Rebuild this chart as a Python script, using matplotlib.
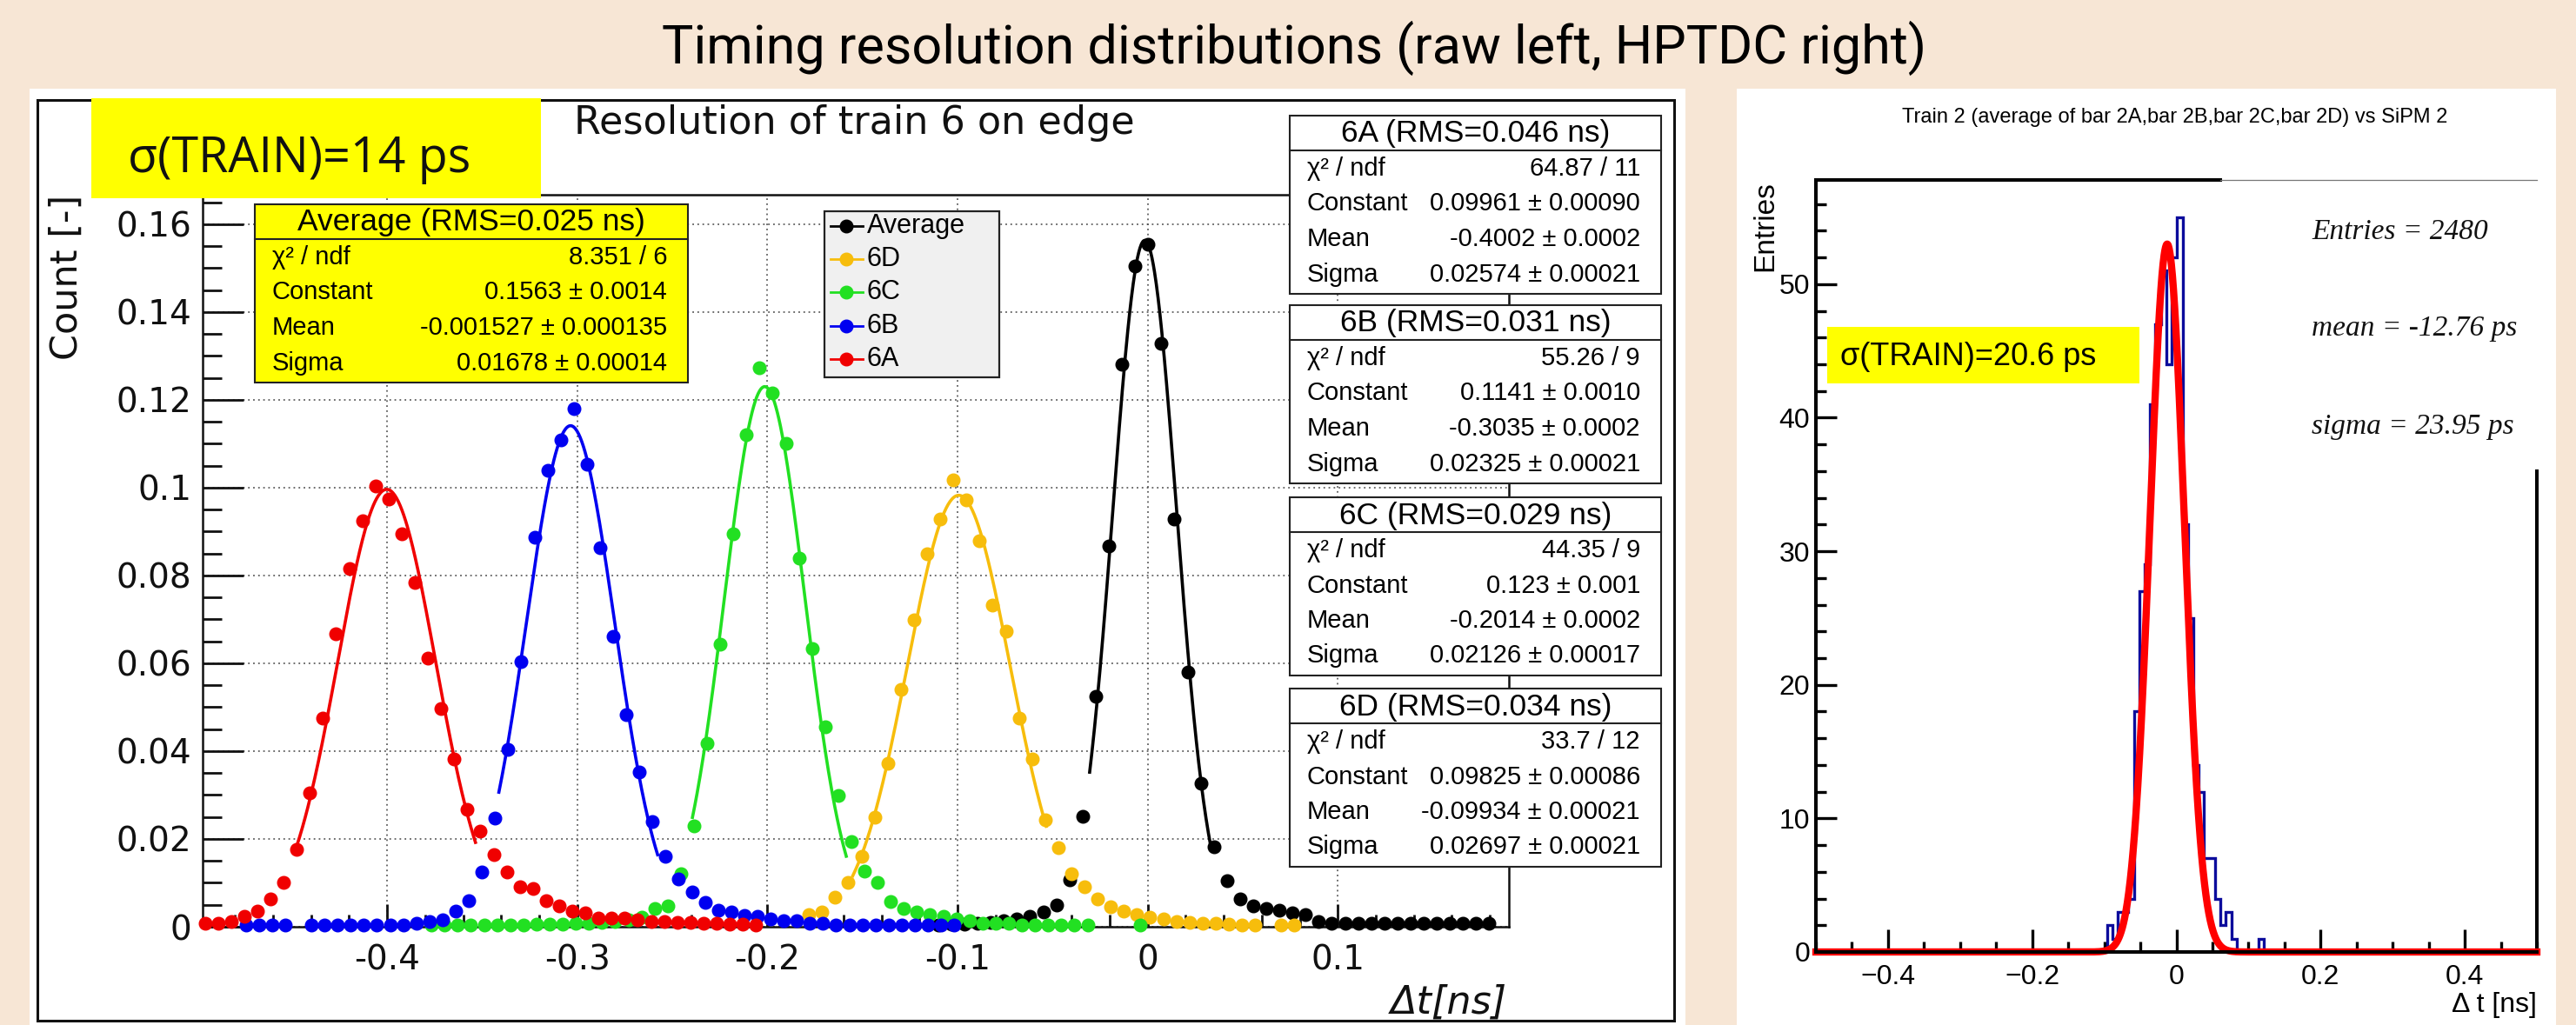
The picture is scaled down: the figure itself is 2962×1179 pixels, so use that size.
import numpy as np
import matplotlib
matplotlib.use("Agg")
import matplotlib.pyplot as plt
from matplotlib.patches import Rectangle
from matplotlib.lines import Line2D
from matplotlib.ticker import MultipleLocator, FuncFormatter

plt.rcParams['font.family'] = ['Liberation Sans', 'DejaVu Sans']

W, H = 2962, 1179

# ---------------- left plot: one point per bin ----------------
step = 0.0069

avg_x0 = -0.1101
avg_y = [0.0003, 0.0005, 0.0005, 0.0008, 0.0010,
         0.0013, 0.0018, 0.0023, 0.0033, 0.0050, 0.0106,
         0.0251, 0.0525, 0.0867, 0.1281, 0.1504, 0.1554, 0.1328, 0.0929, 0.0581,
         0.0327, 0.0182, 0.0104, 0.0063, 0.0047, 0.0042, 0.0037, 0.0032, 0.0027, 0.0012,
         0.0007, 0.0007, 0.0007, 0.0007, 0.0007, 0.0007, 0.0007, 0.0007, 0.0007,
         0.0007, 0.0007, 0.0007, 0.0007]

d6_x0 = -0.1781
d6_y = [0.0028, 0.0033, 0.0067, 0.0101, 0.0161, 0.0249, 0.0372, 0.0540, 0.0698, 0.0850,
        0.0929, 0.1018, 0.0973, 0.0880, 0.0732, 0.0673, 0.0476, 0.0382, 0.0244, 0.0180,
        0.0121, 0.0092, 0.0064, 0.0045, 0.0035, 0.0027, 0.0022, 0.0017, 0.0012, 0.0009,
        0.0007, 0.0007, 0.0005, 0.0003, 0.0003, np.nan, 0.0003, 0.0003]

c6_x0 = -0.3766
c6_y = [0.0003, 0.0003, 0.0003, 0.0003, 0.0003, 0.0004, 0.0004, 0.0004, 0.0005, 0.0005,
        0.0006, 0.0008, 0.0008, 0.0010, 0.0012, 0.0016, 0.0022,
        0.0042, 0.0047, 0.0121, 0.0230, 0.0417, 0.0643, 0.0895, 0.1121, 0.1274, 0.1215,
        0.1101, 0.0840, 0.0633, 0.0456, 0.0299, 0.0195, 0.0126, 0.0101, 0.0057, 0.0042,
        0.0033, 0.0028, 0.0023, 0.0018, 0.0013, 0.0008, 0.0008, 0.0008, 0.0003, 0.0003,
        0.0003, 0.0003, 0.0003, 0.0003, np.nan, np.nan, np.nan, 0.0003]

b6_x0 = -0.4743
b6_y = [0.0003, 0.0003, 0.0003, 0.0003, np.nan, 0.0003, 0.0003, 0.0003, 0.0003, 0.0003,
        0.0004, 0.0004, 0.0004, 0.0008, 0.0012, 0.0016, 0.0036, 0.0060, 0.0124, 0.0248,
        0.0404, 0.0604, 0.0886, 0.1040, 0.1108, 0.1180, 0.1054, 0.0864, 0.0662, 0.0484,
        0.0352, 0.0240, 0.0161, 0.0108, 0.0079, 0.0055, 0.0037, 0.0033, 0.0026, 0.0023,
        0.0018, 0.0013, 0.0013, 0.0008, 0.0008, 0.0003, 0.0003, 0.0003, 0.0003, 0.0003,
        0.0003, 0.0003, 0.0003, 0.0003, 0.0003]

a6_x0 = -0.4958
a6_y = [0.0008, 0.0008, 0.0012, 0.0024, 0.0036, 0.0064, 0.0100, 0.0176, 0.0304, 0.0476,
        0.0668, 0.0816, 0.0924, 0.1004, 0.0974, 0.0894, 0.0784, 0.0612, 0.0496, 0.0382,
        0.0268, 0.0218, 0.0164, 0.0124, 0.0092, 0.0088, 0.0060, 0.0048, 0.0036, 0.0032,
        0.0020, 0.0020, 0.0020, 0.0016, 0.0012, 0.0012, 0.0010, 0.0010, 0.0008, 0.0008,
        0.0006, 0.0006, 0.0004]

names = ["Average", "6D", "6C", "6B", "6A"]
colors = ["#000000", "#f7bd0c", "#22e022", "#0000f0", "#f00000"]
starts = [avg_x0, d6_x0, c6_x0, b6_x0, a6_x0]
values = [avg_y, d6_y, c6_y, b6_y, a6_y]

# gaussian fits (Constant, Mean, Sigma) and the range each fit is drawn over
fit_const = [0.1563, 0.09825, 0.123, 0.1141, 0.09961]
fit_mean = [-0.001527, -0.09934, -0.2014, -0.3035, -0.4002]
fit_sigma = [0.01678, 0.02697, 0.02126, 0.02325, 0.02574]
fit_lo = [-0.0305, -0.1551, -0.2394, -0.3412, -0.4474]
fit_hi = [0.0329, -0.0533, -0.1585, -0.2577, -0.3535]

rms_txt = ["0.025", "0.034", "0.029", "0.031", "0.046"]
chi2_txt = ["8.351 / 6", "33.7 / 12", "44.35 / 9", "55.26 / 9", "64.87 / 11"]
const_txt = ["0.1563 \u00b1 0.0014", "0.09825 \u00b1 0.00086", "0.123 \u00b1 0.001",
             "0.1141 \u00b1 0.0010", "0.09961 \u00b1 0.00090"]
mean_txt = ["-0.001527 \u00b1 0.000135", "-0.09934 \u00b1 0.00021", "-0.2014 \u00b1 0.0002",
            "-0.3035 \u00b1 0.0002", "-0.4002 \u00b1 0.0002"]
sigma_txt = ["0.01678 \u00b1 0.00014", "0.02697 \u00b1 0.00021", "0.02126 \u00b1 0.00017",
             "0.02325 \u00b1 0.00021", "0.02574 \u00b1 0.00021"]

# ---------------- right plot: HPTDC histogram ----------------
h_lo = -0.104
h_bw = 0.0075
h_counts = [0, 2, 1, 3, 3, 4, 18, 27, 29, 41, 47, 51, 44, 52, 55,
            32, 25, 14, 12, 7, 7, 4, 2, 3, 1, 0, 0, 0, 0, 1]
g_amp, g_mean, g_sigma = 53.0, -0.01276, 0.02395


def fx(px):
    return px / W


def fy(py):
    return 1 - py / H


def prect(x0, y0, x1, y1, **kw):
    return Rectangle((fx(x0), fy(y1)), fx(x1) - fx(x0), fy(y0) - fy(y1),
                     transform=fig.transFigure, **kw)


def root_fmt(v, pos=None):
    s = ('%.3f' % v).rstrip('0').rstrip('.')
    if s in ('-0', ''):
        s = '0'
    return s


fig = plt.figure(figsize=(W / 100, H / 100), dpi=100)
fig.patch.set_facecolor('#f7e6d5')

fig.text(fx(1488), fy(73), "Timing resolution distributions (raw left, HPTDC right)",
         ha='center', va='baseline', fontsize=44, color='#000000',
         family=['Roboto', 'Liberation Sans'], fontweight='normal')

# white panels
fig.patches.append(prect(34, 102, 1938, 1179, facecolor='white', edgecolor='none', zorder=-2))
fig.patches.append(prect(1997, 102, 2939, 1179, facecolor='white', edgecolor='none', zorder=-2))
fig.patches.append(prect(43, 115, 1925, 1174, facecolor='none', edgecolor='#111111',
                         lw=2.2, zorder=-1))

# ---------------- left axes ----------------
ax = fig.add_axes([fx(233), fy(1066), fx(1735) - fx(233), fy(224) - fy(1066)])
for name, col, x0, ys, c, m, s, lo, hi in zip(names, colors, starts, values, fit_const,
                                               fit_mean, fit_sigma, fit_lo, fit_hi):
    xs = x0 + step * np.arange(len(ys))
    xf = np.linspace(lo, hi, 200)
    ax.plot(xf, c * np.exp(-0.5 * ((xf - m) / s) ** 2), color=col, lw=2.6, zorder=3)
    ax.plot(xs, ys, 'o', color=col, ms=10.5, mec=col, zorder=4, clip_on=False)

ax.set_xlim(-0.497, 0.19)
ax.set_ylim(0, 0.1667)
ax.xaxis.set_major_locator(MultipleLocator(0.1))
ax.xaxis.set_minor_locator(MultipleLocator(0.02))
ax.yaxis.set_major_locator(MultipleLocator(0.02))
ax.yaxis.set_minor_locator(MultipleLocator(0.005))
ax.xaxis.set_major_formatter(FuncFormatter(root_fmt))
ax.yaxis.set_major_formatter(FuncFormatter(root_fmt))
ax.tick_params(which='both', direction='in', width=2.0, colors='#111111')
ax.tick_params(axis='y', which='major', length=34, pad=9)
ax.tick_params(axis='y', which='minor', length=16)
ax.tick_params(axis='x', which='major', length=19, pad=14)
ax.tick_params(axis='x', which='minor', length=10)
for lab in ax.get_xticklabels() + ax.get_yticklabels():
    lab.set_family('DejaVu Sans')
    lab.set_fontsize(28)
ax.grid(True, which='major', color='#444444', lw=1.1, linestyle=(0, (1.2, 2.6)))
for sp in ax.spines.values():
    sp.set_linewidth(1.8)
    sp.set_color('#111111')

fig.text(fx(77), fy(224), "Count [-]", rotation=90, ha='center', va='top',
         fontsize=31, family='DejaVu Sans', color='#111111')
fig.text(fx(1733), fy(1153), "\u0394t[ns]", ha='right', va='center', fontsize=32,
         family='DejaVu Sans', style='italic', color='#111111')
fig.text(fx(660), fy(154), "Resolution of train 6 on edge", ha='left', va='baseline',
         fontsize=32, family='DejaVu Sans', color='#111111')

# sigma label box
fig.patches.append(prect(105, 113, 622, 228, facecolor='#ffff00', edgecolor='none', zorder=2))
fig.text(fx(147), fy(183), "\u03c3(TRAIN)=14 ps", ha='left', va='center', fontsize=40,
         family='Open Sans', color='#111111', zorder=5)

# legend
fig.patches.append(prect(948, 243, 1149, 434, facecolor='#f0f0f0', edgecolor='#222222',
                         lw=1.6, zorder=2))
for i, (name, col) in enumerate(zip(names, colors)):
    yy = fy(260 + 38.2 * i)
    fig.lines.append(Line2D([fx(955), fx(992)], [yy, yy], color=col, lw=2.0,
                            transform=fig.transFigure, zorder=4))
    fig.lines.append(Line2D([fx(973)], [yy], marker='o', ms=10.5, color=col,
                            transform=fig.transFigure, zorder=4))
    fig.text(fx(997), yy, name, ha='left', va='center', fontsize=22, zorder=5)

# stats boxes
box_left = [293, 1483, 1483, 1483, 1483]
box_right = [791, 1910, 1910, 1910, 1910]
box_top = [235, 792, 572, 351, 133]
box_face = ['#ffff00', 'white', 'white', 'white', 'white']
for i in range(5):
    x0, x1, t = box_left[i], box_right[i], box_top[i]
    fig.patches.append(prect(x0, t, x1, t + 205, facecolor=box_face[i],
                             edgecolor='#222222', lw=1.5, zorder=2))
    fig.lines.append(Line2D([fx(x0), fx(x1)], [fy(t + 40), fy(t + 40)], color='#222222',
                            lw=1.5, transform=fig.transFigure, zorder=3))
    fig.text(fx((x0 + x1) / 2), fy(t + 21), "%s (RMS=%s ns)" % (names[i], rms_txt[i]),
             ha='center', va='center', fontsize=25.5, zorder=5)
    labels = ["\u03c7\u00b2 / ndf", "Constant", "Mean", "Sigma"]
    vals = [chi2_txt[i], const_txt[i], mean_txt[i], sigma_txt[i]]
    for j, (lab, val) in enumerate(zip(labels, vals)):
        yy = fy(t + 61 + 40.5 * j)
        fig.text(fx(x0 + 20), yy, lab, ha='left', va='center', fontsize=21, zorder=5)
        fig.text(fx(x1 - 24), yy, val, ha='right', va='center', fontsize=21, zorder=5)

# ---------------- right axes ----------------
axr = fig.add_axes([fx(2088), fy(1095), fx(2917) - fx(2088), fy(207) - fy(1095)])
edges = h_lo + h_bw * np.arange(len(h_counts) + 1)
axr.stairs(h_counts, edges, color='#0c0c9c', lw=2.4, baseline=0, zorder=2)
xx = np.linspace(-0.5, 0.5, 2001)
axr.plot(xx, g_amp * np.exp(-0.5 * ((xx - g_mean) / g_sigma) ** 2), color='#ff0000',
         lw=6, zorder=3, clip_on=False)
axr.set_xlim(-0.5, 0.5)
axr.set_ylim(0, 57.8)
axr.xaxis.set_major_locator(MultipleLocator(0.2))
axr.xaxis.set_minor_locator(MultipleLocator(0.05))
axr.yaxis.set_major_locator(MultipleLocator(10))
axr.yaxis.set_minor_locator(MultipleLocator(2))
axr.xaxis.set_major_formatter(FuncFormatter(lambda v, p: root_fmt(v).replace('-', '\u2212')))
axr.yaxis.set_major_formatter(FuncFormatter(lambda v, p: '%d' % round(v)))
axr.tick_params(which='both', direction='in', width=2.4, colors='black', labelsize=23)
axr.tick_params(axis='y', which='major', length=17, pad=5)
axr.tick_params(axis='y', which='minor', length=8.5)
axr.tick_params(axis='x', which='major', length=18.5, pad=10)
axr.tick_params(axis='x', which='minor', length=8.5)
axr.spines['top'].set_visible(False)
axr.spines['right'].set_visible(False)
for sp in ('left', 'bottom'):
    axr.spines[sp].set_linewidth(2.9)
    axr.spines[sp].set_zorder(4)
axr.plot([0, 0.561], [1, 1], color='black', lw=2.9, transform=axr.transAxes, clip_on=False)
axr.plot([0.561, 1], [1, 1], color='#777777', lw=0.9, transform=axr.transAxes, clip_on=False)
axr.plot([1, 1], [0, 0.6227], color='black', lw=2.9, transform=axr.transAxes, clip_on=False)

fig.text(fx(2501), fy(135), "Train 2 (average of bar 2A,bar 2B,bar 2C,bar 2D) vs SiPM 2",
         ha='center', va='center', fontsize=17)
fig.text(fx(2030), fy(208), "Entries", rotation=90, ha='center', va='top', fontsize=24)
fig.text(fx(2917), fy(1156), "\u0394 t [ns]", ha='right', va='center', fontsize=23)

for txt, yy in zip(["Entries = 2480", "mean = -12.76 ps", "sigma = 23.95 ps"], [267, 378, 491]):
    fig.text(fx(2658), fy(yy), txt, ha='left', va='center', fontsize=24,
             family='Liberation Serif', style='italic', color='#111111')

fig.patches.append(prect(2101, 376, 2460, 441, facecolor='#ffff00', edgecolor='none', zorder=2))
fig.text(fx(2116), fy(410), "\u03c3(TRAIN)=20.6 ps", ha='left', va='center', fontsize=26,
         zorder=5)

fig.savefig("out.png", dpi=100, facecolor=fig.get_facecolor())
